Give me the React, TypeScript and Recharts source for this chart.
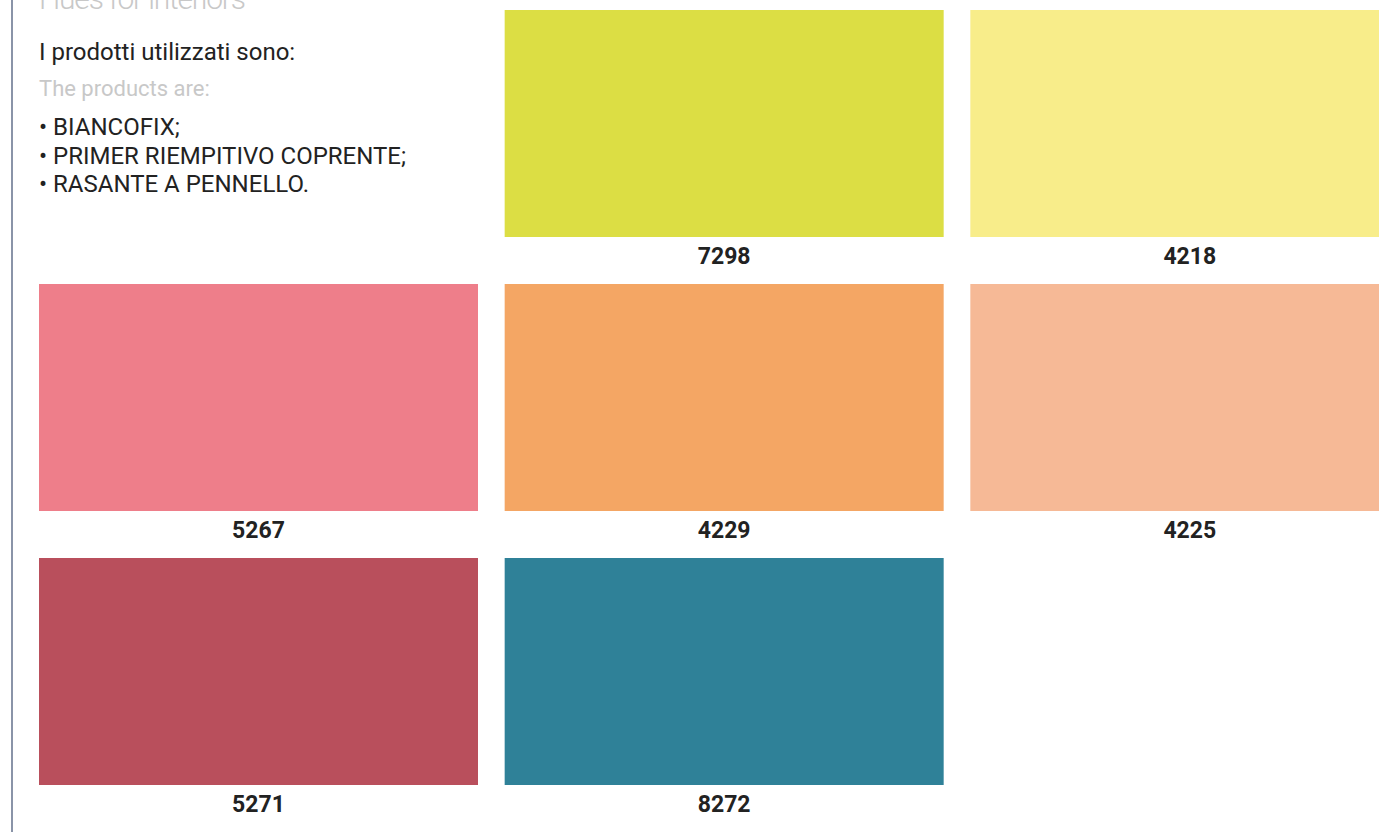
import { BarChart, Bar, XAxis, YAxis, Cell, LabelList } from "recharts";

// swatch grid: three columns, three rows (top row first)
const columns = ["c1", "c2", "c3"];

const row1Codes = ["", "7298", "4218"];
const row1Colors = ["none", "#dcde44", "#f8ed8a"];
const row2Codes = ["5267", "4229", "4225"];
const row2Colors = ["#ee7e8a", "#f4a664", "#f6b996"];
const row3Codes = ["5271", "8272", ""];
const row3Colors = ["#b94f5c", "#2f8198", "none"];

// each row takes one unit of the stack
const rowUnits = [1, 1, 1];

const products = ["BIANCOFIX;", "PRIMER RIEMPITIVO COPRENTE;", "RASANTE A PENNELLO."];

const SWATCH = 227 / 274; // part of a row filled by the colour, rest holds the code

const data = columns.map((c, i) => ({
  col: c,
  r1: rowUnits[0],
  r2: rowUnits[1],
  r3: rowUnits[2],
  code1: row1Codes[i],
  code2: row2Codes[i],
  code3: row3Codes[i],
}));

const Swatch = (props: any) => {
  const { x, y, width, height, fill } = props;
  if (!fill || fill === "none") return <g />;
  return <rect x={x} y={y} width={width} height={height * SWATCH} fill={fill} />;
};

const CodeLabel = (props: any) => {
  const { x, y, width, height, value } = props;
  if (!value) return null;
  return (
    <text
      x={x + width / 2}
      y={y + height * SWATCH + 19}
      textAnchor="middle"
      dominantBaseline="central"
      fontFamily="Roboto, sans-serif"
      fontWeight={700}
      fontSize={23}
      fill="#222"
    >
      {value}
    </text>
  );
};

const font = "Roboto, 'Noto Sans', sans-serif";

export default function App() {
  return (
    <div
      style={{
        position: "fixed",
        top: 0,
        left: 0,
        width: 1379,
        height: 832,
        overflow: "hidden",
        background: "#fff",
        fontFamily: font,
      }}
    >
      <div style={{ position: "absolute", left: 11, top: 0, width: 2, height: 832, background: "#8a94a8" }} />

      <BarChart
        width={1424}
        height={832}
        data={data}
        margin={{ top: 10, right: 1, bottom: 0, left: 26 }}
        barSize={439}
        style={{ position: "absolute", left: 0, top: 0 }}
      >
        <XAxis dataKey="col" hide />
        <YAxis type="number" domain={[0, 3]} hide />
        <Bar dataKey="r3" stackId="g" shape={Swatch} isAnimationActive={false}>
          {row3Colors.map((c, i) => (
            <Cell key={i} fill={c} />
          ))}
          <LabelList dataKey="code3" content={CodeLabel} />
        </Bar>
        <Bar dataKey="r2" stackId="g" shape={Swatch} isAnimationActive={false}>
          {row2Colors.map((c, i) => (
            <Cell key={i} fill={c} />
          ))}
          <LabelList dataKey="code2" content={CodeLabel} />
        </Bar>
        <Bar dataKey="r1" stackId="g" shape={Swatch} isAnimationActive={false}>
          {row1Colors.map((c, i) => (
            <Cell key={i} fill={c} />
          ))}
          <LabelList dataKey="code1" content={CodeLabel} />
        </Bar>
      </BarChart>

      <div
        style={{
          position: "absolute",
          left: 39,
          top: -19,
          fontSize: 30,
          fontWeight: 300,
          letterSpacing: -1.2,
          color: "#c8c8c8",
          lineHeight: "36px",
          whiteSpace: "nowrap",
        }}
      >
        Hues for interiors
      </div>
      <div style={{ position: "absolute", left: 39, top: 38, fontSize: 24, color: "#222", lineHeight: "28px", whiteSpace: "nowrap" }}>
        I prodotti utilizzati sono:
      </div>
      <div style={{ position: "absolute", left: 39, top: 76, fontSize: 22, color: "#c8c8c8", lineHeight: "26px", whiteSpace: "nowrap" }}>
        The products are:
      </div>
      <div style={{ position: "absolute", left: 39, top: 113, fontSize: 24, color: "#222", lineHeight: "28.5px", whiteSpace: "nowrap" }}>
        {products.map((p) => (
          <div key={p}>•&nbsp;{p}</div>
        ))}
      </div>
    </div>
  );
}
